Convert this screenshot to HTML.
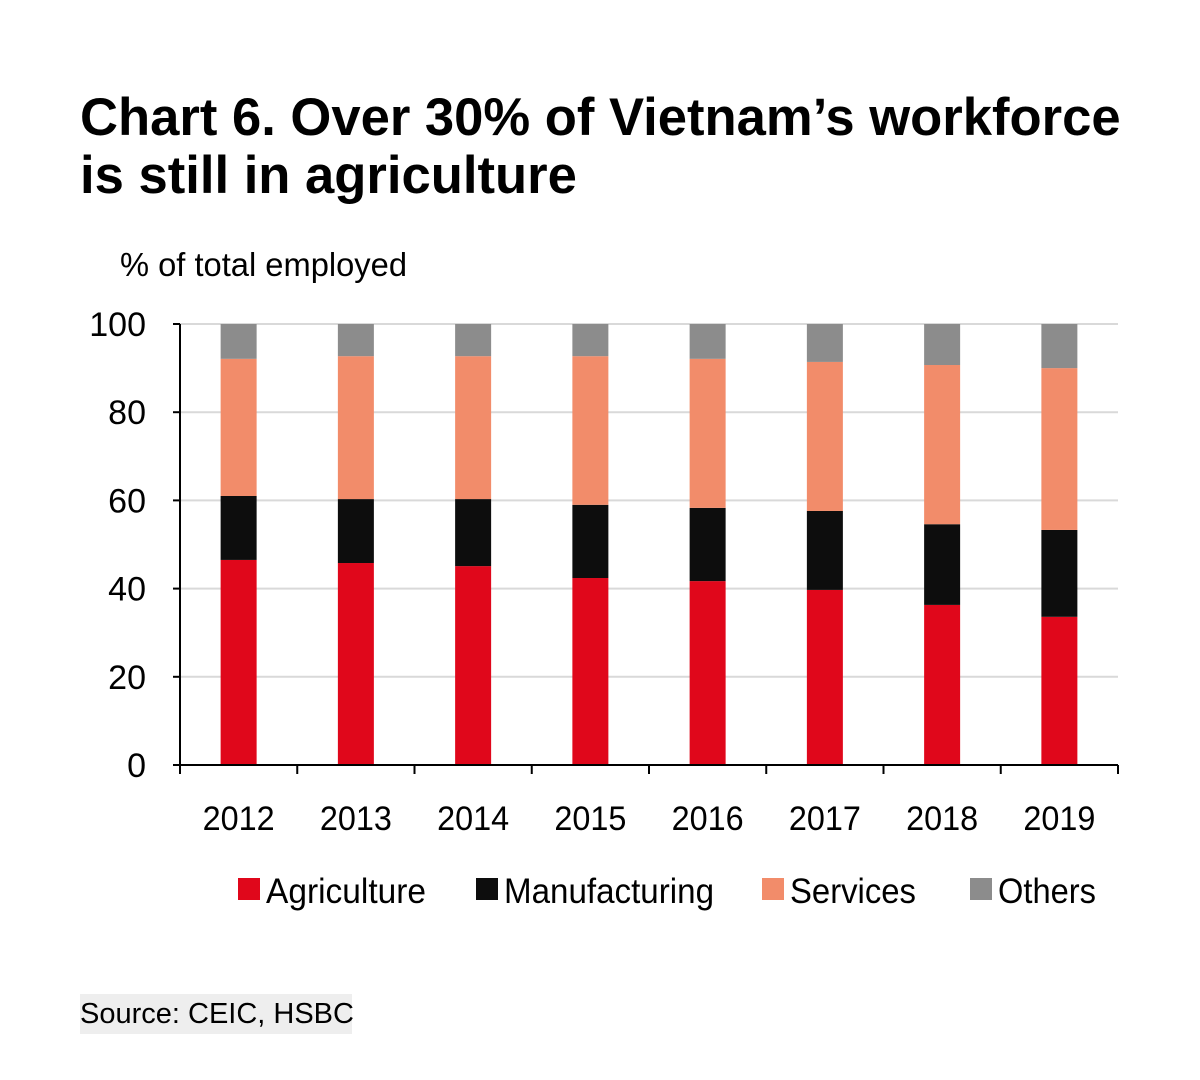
<!DOCTYPE html>
<html><head><meta charset="utf-8"><style>
body{margin:0;background:#fff;width:1200px;height:1080px;overflow:hidden;font-family:"Liberation Sans",sans-serif}
#title{position:absolute;left:80px;top:89px;font-size:52.6px;font-weight:bold;line-height:58px;color:#000;white-space:nowrap}
#src{position:absolute;left:80px;top:994px;width:272px;height:40px;background:#eee;font-size:29px;line-height:40px;color:#000;white-space:nowrap}
</style></head><body>
<div id="title">Chart 6. Over 30% of Vietnam’s workforce<br>is still in agriculture</div>
<svg id="chart" width="1200" height="1080" style="position:absolute;left:0;top:0"></svg>
<div id="src">Source: CEIC, HSBC</div>
<script>
const years=["2012","2013","2014","2015","2016","2017","2018","2019"];
const agriculture=[46.5,45.8,45.1,42.4,41.7,39.7,36.3,33.6];
const manufacturing=[14.5,14.5,15.2,16.6,16.6,17.9,18.3,19.7];
const services=[31.1,32.4,32.4,33.7,33.8,33.8,36.1,36.7];
const others=[7.9,7.3,7.3,7.3,7.9,8.6,9.3,10.0];
const yTicks=[0,20,40,60,80,100];
const series=[["agriculture",agriculture,"#e0071b","Agriculture"],["manufacturing",manufacturing,"#0d0d0d","Manufacturing"],["services",services,"#f28c6a","Services"],["others",others,"#8c8c8c","Others"]];
const NS="http://www.w3.org/2000/svg",svg=document.getElementById('chart');
const X0=180,X1=1118,Y0=765,Y1=324;
const band=(X1-X0)/years.length;
const y=v=>Y0-(v/100)*(Y0-Y1);
const xc=i=>X0+band*(i+0.5);
function mk(t,a,txt){const e=document.createElementNS(NS,t);for(const k in a)e.setAttribute(k,a[k]);if(txt!=null)e.textContent=txt;svg.appendChild(e);return e;}
let e=mk('text',{x:120,y:276,'font-size':33,fill:'#000',textLength:287,lengthAdjust:'spacingAndGlyphs'},'% of total  employed');


yTicks.forEach(t=>{
 if(t>0){e=mk('line',{x1:X0,x2:X1,y1:y(t),y2:y(t),stroke:'#d9d9d9','stroke-width':2});
 
 }
 e=mk('line',{x1:X0-7,x2:X0,y1:y(t),y2:y(t),stroke:'#000','stroke-width':2});
 
 
 e=mk('text',{x:X0-34,y:y(t)+12,'font-size':34,'text-anchor':'end',fill:'#000'},t);
 
 
});
years.forEach((yr,i)=>{
 let base=0;
 series.forEach(s=>{const v=s[1][i];
  e=mk('rect',{x:xc(i)-18,width:36,y:y(base+v),height:y(base)-y(base+v),fill:s[2]});
  
  
  base+=v;});
 e=mk('text',{x:xc(i),y:830,'font-size':34,'text-anchor':'middle',fill:'#000',textLength:72,lengthAdjust:'spacingAndGlyphs'},yr);
 
 
});
for(let i=0;i<=years.length;i++){e=mk('line',{x1:X0+band*i,x2:X0+band*i,y1:Y0,y2:Y0+9,stroke:'#000','stroke-width':2});
 
 }
e=mk('line',{x1:X0,x2:X0,y1:Y1,y2:Y0,stroke:'#000','stroke-width':2});


e=mk('line',{x1:X0,x2:X1,y1:Y0,y2:Y0,stroke:'#000','stroke-width':2});


const lx=[238,476,762,970];
const lw=[160,210,126,98];
series.forEach((s,k)=>{
 e=mk('rect',{x:lx[k],y:878,width:22,height:22,fill:s[2]});
 
 
 e=mk('text',{x:lx[k]+28,y:903,'font-size':35,fill:'#000',textLength:lw[k],lengthAdjust:'spacingAndGlyphs'},s[3]);
 
 
});
</script>
</body></html>
